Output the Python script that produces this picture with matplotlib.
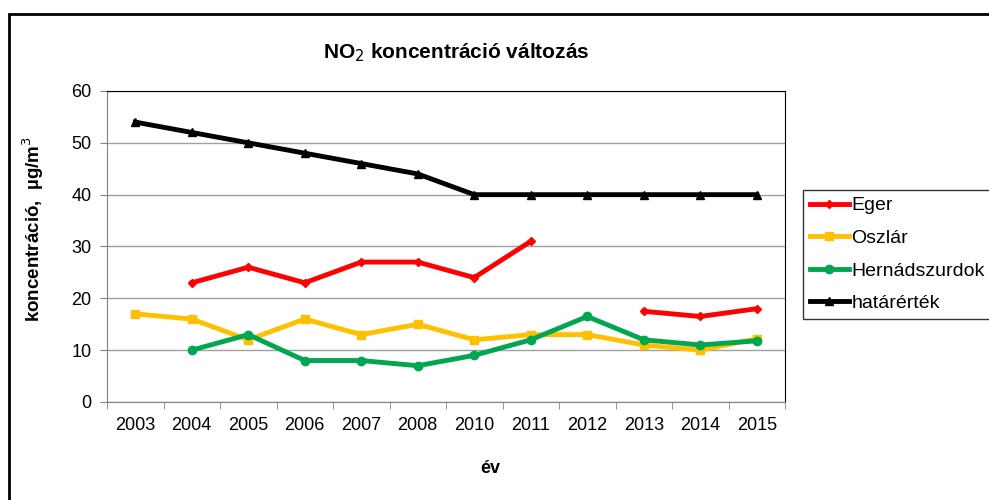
import numpy as np
import matplotlib.pyplot as plt
from matplotlib.patches import Rectangle

# ── DATA ──
years = ['2003', '2004', '2005', '2006', '2007', '2008',
         '2010', '2011', '2012', '2013', '2014', '2015']
eger = [np.nan, 23, 26, 23, 27, 27, 24, 31, np.nan, 17.5, 16.5, 18]
oszlar = [17, 16, 12, 16, 13, 15, 12, 13, 13, 11, 10, 12.2]
hernad = [np.nan, 10, 13, 8, 8, 7, 9, 12, 16.5, 12, 11, 11.8]
hatar = [54, 52, 50, 48, 46, 44, 40, 40, 40, 40, 40, 40]

plt.rcParams['font.family'] = ['Liberation Sans', 'DejaVu Sans']

fig = plt.figure(figsize=(9.89, 5.0), dpi=100)
ax = fig.add_axes([107 / 989, 98 / 500, 678 / 989, 311 / 500])

# outer frame of the chart object
fig.patches.append(Rectangle((9 / 989, -0.1), 1.1, (500 - 14) / 500 + 0.1,
                             transform=fig.transFigure, fill=False,
                             edgecolor='black', linewidth=2))

x = np.arange(len(years))
ax.plot(x, eger, color='#FF0000', linewidth=3.5, marker='D', markersize=4.5, label='Eger')
ax.plot(x, oszlar, color='#FFC000', linewidth=3.5, marker='s', markersize=6, label='Oszlár')
ax.plot(x, hernad, color='#00A650', linewidth=3.5, marker='o', markersize=6, label='Hernádszurdok')
ax.plot(x, hatar, color='black', linewidth=3.5, marker='^', markersize=6, label='határérték')

ax.set_xlim(-0.5, len(years) - 0.5)
ax.set_ylim(0, 60)
ax.set_yticks(range(0, 61, 10))
ax.set_xticks(x)
ax.set_xticklabels(years, fontsize=13)
ax.set_xticks(np.arange(-0.5, len(years), 1), minor=True)
ax.tick_params(axis='x', which='major', length=0, pad=11)
ax.tick_params(axis='x', which='minor', length=5, color='#808080', direction='out')
ax.tick_params(axis='y', length=5, color='#808080', labelsize=13, pad=6)

ax.grid(axis='y', color='#A0A0A0', linewidth=1)
ax.set_axisbelow(True)
for s in ['left', 'bottom']:
    ax.spines[s].set_color('#808080')
for s in ['top', 'right']:
    ax.spines[s].set_color('black')

fig.text(456 / 989, (500 - 58) / 500, 'NO$_2$ koncentráció változás',
         fontsize=15, fontweight='bold', ha='center', va='baseline')
ax.set_xlabel('év', fontsize=13, fontweight='bold')
ax.xaxis.set_label_coords((490 - 107) / 678, -0.186)
ax.set_ylabel('koncentráció,  µg/m$^3$', fontsize=13.5, fontweight='bold')
ax.yaxis.set_label_coords(-0.09, 0.555)

leg = ax.legend(loc='upper left', bbox_to_anchor=(803 / 989, (500 - 190) / 500),
                bbox_transform=fig.transFigure, fontsize=14, frameon=True,
                fancybox=False, edgecolor='black', handlelength=2.0,
                handletextpad=0.15, borderaxespad=0, labelspacing=0.77,
                borderpad=0.35)
leg.get_frame().set_linewidth(1)

plt.savefig('out.png', dpi=100)
